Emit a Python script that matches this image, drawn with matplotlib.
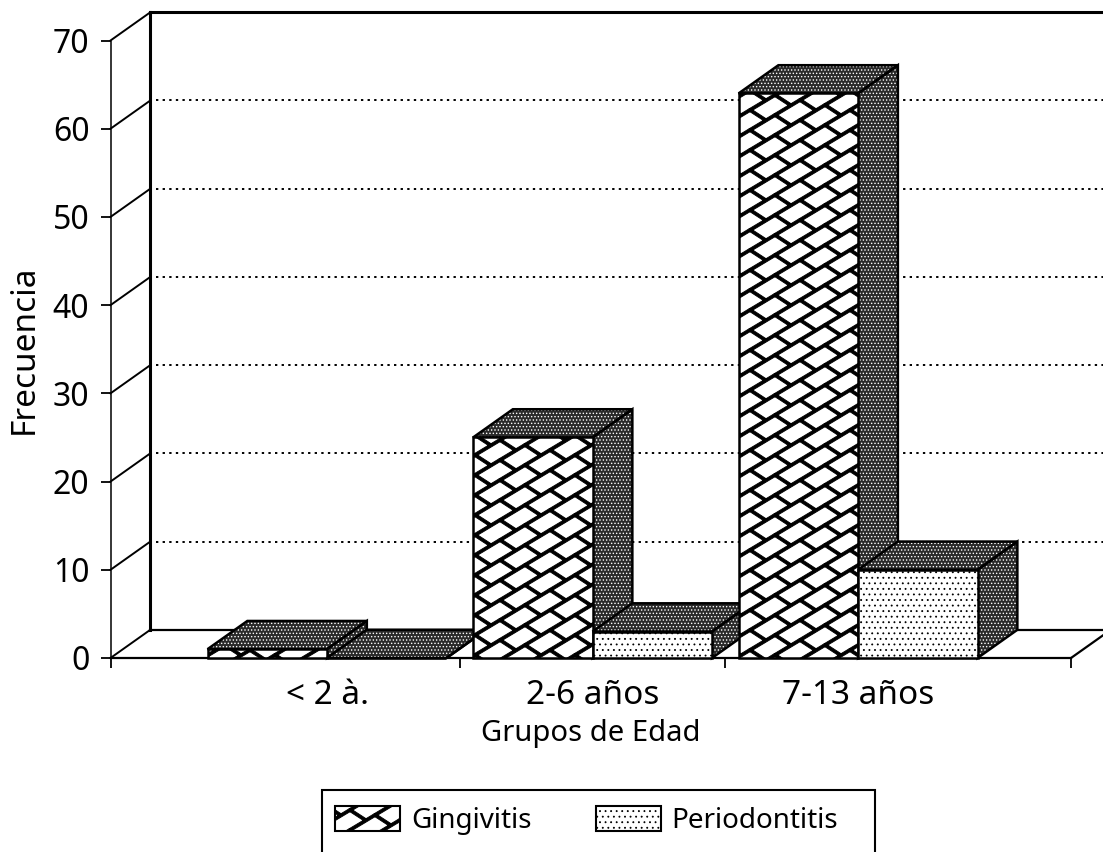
import numpy as np
import matplotlib
matplotlib.use("Agg")
import matplotlib.pyplot as plt
from matplotlib import hatch as mhatch
from matplotlib.patches import Patch, Polygon, Rectangle
from matplotlib.path import Path

categories = ["< 2 à.", "2-6 años", "7-13 años"]
gingivitis = [1, 25, 64]
periodontitis = [0, 3, 10]
series_names = ["Gingivitis", "Periodontitis"]
y_ticks = [0, 10, 20, 30, 40, 50, 60, 70]


class BrickHatch(mhatch.HatchPatternBase):
    # slanted brick texture of the original, drawn for the '*' hatch char
    def __init__(self, hatch, density):
        self.on = hatch.count("*") > 0
        self.segs = []
        if self.on:
            for i in range(-2, 7):
                for j in range(-4, 10):
                    x, y = 25.0 * i, 15.0 * i + 20.0 * j
                    self.segs.append(((x, y), (x + 25, y + 15)))
                    self.segs.append(((x, y), (x + 16, y - 10.4)))
        self.num_vertices = 5 * len(self.segs)

    def set_vertices_and_codes(self, vertices, codes):
        for k, (p, q) in enumerate(self.segs):
            p, q = np.array(p), np.array(q)
            d = q - p
            n = np.array([-d[1], d[0]]) / np.hypot(*d) * 1.5
            vertices[5 * k:5 * k + 5] = np.array([p + n, q + n, q - n, p - n, p + n]) / 100.0
            codes[5 * k:5 * k + 5] = [Path.MOVETO, Path.LINETO, Path.LINETO, Path.LINETO, Path.CLOSEPOLY]


mhatch._hatch_types[:] = [t for t in mhatch._hatch_types if t is not mhatch.Stars] + [BrickHatch]

plt.rcParams["font.family"] = ["Noto Sans", "DejaVu Sans"]
plt.rcParams["hatch.linewidth"] = 0.6

W, H = 1103, 852
fig = plt.figure(figsize=(W / 100, H / 100), dpi=100)
ax = fig.add_axes([110.5 / W, 1 - 658 / H, 960.5 / W, 617.5 / H])

XMIN, XMAX = -0.8154, 2.802
BAR_W = 0.45
DX, DY = 0.15, 3.2   # depth of the fake 3d, in data units
ax.set_xlim(XMIN, XMAX)
ax.set_ylim(0, 70)

for s in ["top", "right"]:
    ax.spines[s].set_visible(False)
ax.spines["left"].set_linewidth(1.1)
ax.spines["bottom"].set_linewidth(1.6)

ax.set_yticks(y_ticks)
ax.tick_params(axis="y", labelsize=23, length=7.2, width=1.3, pad=8)
ax.set_xticks([XMIN, 0.5, 1.5, XMAX])
ax.set_xticklabels([])
ax.tick_params(axis="x", which="major", length=7.2, width=1.3)
ax.set_xticks([0, 1, 2], minor=True)
ax.set_xticklabels(categories, minor=True)
ax.tick_params(axis="x", which="minor", length=0, pad=15, labelsize=24)

ax.set_xlabel("Grupos de Edad", fontsize=21, labelpad=5)
ax.set_ylabel("Frecuencia", fontsize=24)
ax.yaxis.set_label_coords(-0.0725, 0.50)

# back wall
for v in y_ticks:
    ax.plot([XMIN, XMIN + DX], [v, v + DY], color="black", lw=1.4, clip_on=False, zorder=1)
ax.plot([XMIN + DX, XMIN + DX], [DY, 70 + DY], color="black", lw=2.2, clip_on=False, zorder=1)
ax.plot([XMIN + DX, 3.0], [70 + DY, 70 + DY], color="black", lw=2.2, clip_on=False, zorder=1)
ax.plot([XMIN + DX, 3.0], [DY, DY], color="black", lw=1.6, clip_on=False, zorder=1)
ax.plot([XMAX, XMAX + DX], [0, DY], color="black", lw=1.6, clip_on=False, zorder=1)
for v in y_ticks[1:-1]:
    ax.plot([XMIN + DX + 0.02, 3.0], [v + DY, v + DY], color="black", lw=1.4,
            ls=(0, (1.2, 2.2)), clip_on=False, zorder=1)


def dark_face(points, z):
    ax.add_patch(Polygon(points, facecolor="#2a2a2a", edgecolor="white", hatch=".....",
                         lw=0, clip_on=False, zorder=z))
    ax.add_patch(Polygon(points, fill=False, edgecolor="black", lw=1.8,
                         clip_on=False, zorder=z + 0.1))


def bar3d(x, v, hatch, z):
    left, right = x, x + BAR_W
    dark_face([(left, v), (left + DX, v + DY), (right + DX, v + DY), (right, v)], z)
    dark_face([(right, 0), (right + DX, DY), (right + DX, v + DY), (right, v)], z)
    ax.bar(x, v, BAR_W, align="edge", facecolor="white", edgecolor="black", hatch=hatch,
           lw=1.8, clip_on=False, zorder=z + 0.2)


z = 3
for i in range(len(categories)):
    bar3d(i - BAR_W, gingivitis[i], "*", z)
    bar3d(i, periodontitis[i], "...", z + 1)
    z += 2

# legend box runs off the bottom of the page in the original
fig.add_artist(Rectangle((322 / W, -0.02), 553 / W, 1 - 790 / H + 0.02, fill=False,
                         edgecolor="black", lw=1.5, transform=fig.transFigure))
handles = [Patch(facecolor="white", edgecolor="black", hatch="*", lw=1.5),
           Patch(facecolor="white", edgecolor="black", hatch="...", lw=1.5)]
fig.legend(handles, series_names, loc="upper left", bbox_to_anchor=(335 / W, 1 - 806 / H),
           ncols=2, frameon=False, fontsize=20, borderpad=0, borderaxespad=0,
           handlelength=2.34, handleheight=1.0, handletextpad=0.4, columnspacing=2.3)

fig.savefig("out.png", dpi=100)
